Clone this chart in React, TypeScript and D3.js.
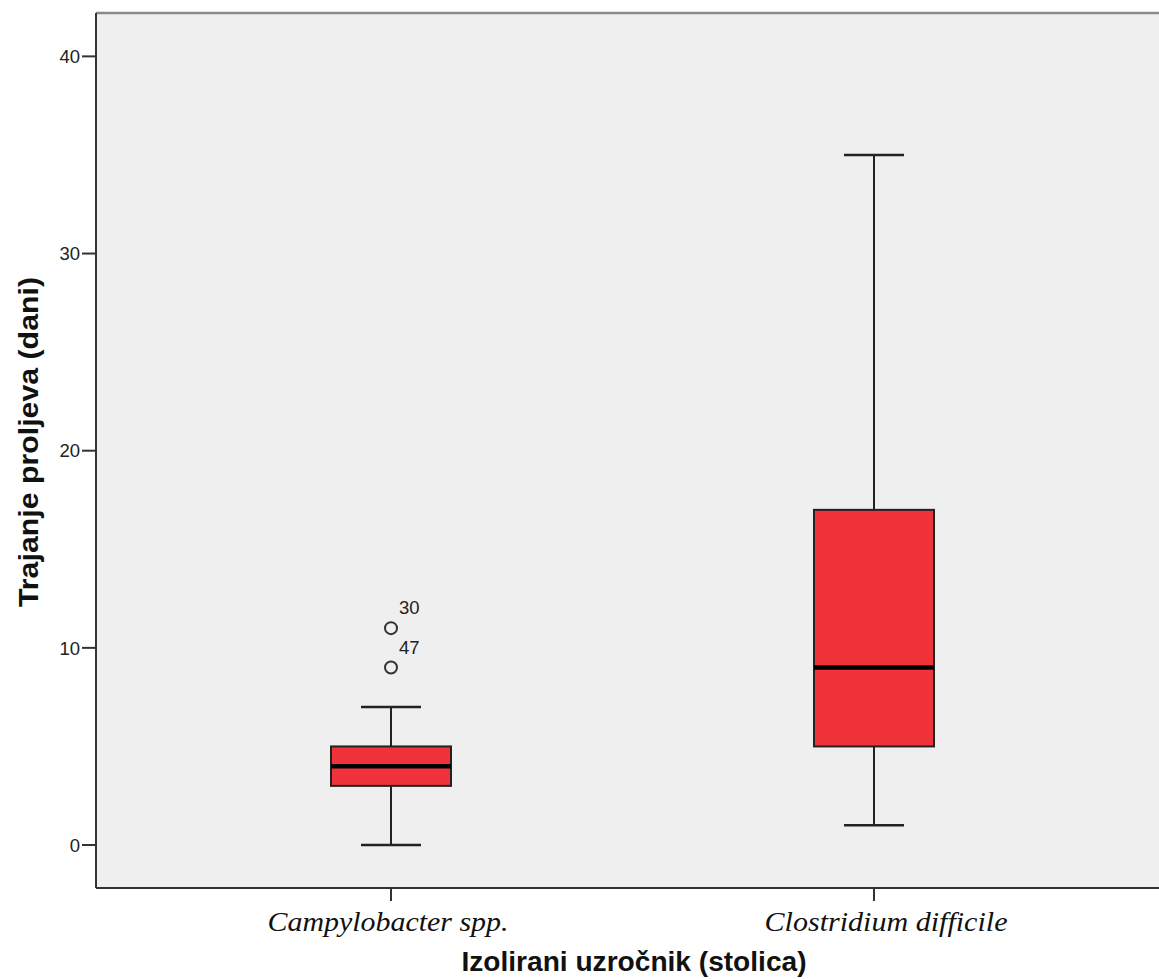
import React from "react";
import * as d3 from "d3";

const categories = ["Campylobacter spp.", "Clostridium difficile"];
const whiskerLow = [0, 1];
const q1 = [3, 5];
const medians = [4, 9];
const q3 = [5, 17];
const whiskerHigh = [7, 35];
const outlierValues = [[11, 9], []];
const outlierLabels = [["30", "47"], []];
const yTicks = [0, 10, 20, 30, 40];

export default function App() {
  const W = 1159, H = 979;
  const left = 96, top = 13, right = 1159, bottom = 888;
  const y = d3.scaleLinear().domain([-2.18, 42.2]).range([bottom, top]);
  const x = d3.scalePoint<string>().domain(categories).range([391, 874]);
  const boxW = 120, capW = 60;
  const fill = "#f0333a";
  const catLens = [241, 243];
  const catDx = [-3, 12];
  return (
    <svg width={W} height={H} style={{ position: "absolute", left: 0, top: 0, background: "#fff" }}>
      <rect x={left} y={top} width={right - left} height={bottom - top} fill="#efefef" />
      <line x1={left} y1={top} x2={right} y2={top} stroke="#8a8a8a" strokeWidth={2.5} />
      <line x1={left} y1={top} x2={left} y2={bottom} stroke="#333" strokeWidth={2} />
      <line x1={left} y1={bottom} x2={right} y2={bottom} stroke="#333" strokeWidth={2} />
      {yTicks.map((t) => (
        <g key={t}>
          <line x1={left - 14} x2={left} y1={y(t)} y2={y(t)} stroke="#333" strokeWidth={2} />
          <text x={left - 16} y={y(t)} dy="0.36em" textAnchor="end" fontFamily="'Liberation Sans', Arial, sans-serif" fontSize={18.5} fill="#222">{t}</text>
        </g>
      ))}
      {categories.map((c, i) => {
        const cx = x(c)!;
        return (
          <g key={c}>
            <line x1={cx} x2={cx} y1={bottom} y2={bottom + 13} stroke="#333" strokeWidth={2} />
            <text x={cx + catDx[i]} y={931} textAnchor="middle" fontFamily="'Liberation Serif', 'DejaVu Serif', serif" fontStyle="italic" fontSize={28} textLength={catLens[i]} lengthAdjust="spacingAndGlyphs" fill="#111">{c}</text>
            <line x1={cx} x2={cx} y1={y(whiskerLow[i])} y2={y(q1[i])} stroke="#222" strokeWidth={2} />
            <line x1={cx} x2={cx} y1={y(q3[i])} y2={y(whiskerHigh[i])} stroke="#222" strokeWidth={2} />
            <line x1={cx - capW / 2} x2={cx + capW / 2} y1={y(whiskerLow[i])} y2={y(whiskerLow[i])} stroke="#222" strokeWidth={2.5} />
            <line x1={cx - capW / 2} x2={cx + capW / 2} y1={y(whiskerHigh[i])} y2={y(whiskerHigh[i])} stroke="#222" strokeWidth={2.5} />
            <rect x={cx - boxW / 2} y={y(q3[i])} width={boxW} height={y(q1[i]) - y(q3[i])} fill={fill} stroke="#222" strokeWidth={2} />
            <line x1={cx - boxW / 2} x2={cx + boxW / 2} y1={y(medians[i])} y2={y(medians[i])} stroke="#000" strokeWidth={4.5} />
            {outlierValues[i].map((v, j) => (
              <g key={j}>
                <circle cx={cx} cy={y(v)} r={6} fill="none" stroke="#333" strokeWidth={2} />
                <text x={cx + 8} y={y(v) - 14} fontFamily="'Liberation Sans', Arial, sans-serif" fontSize={18.5} fill="#222">{outlierLabels[i][j]}</text>
              </g>
            ))}
          </g>
        );
      })}
      <text x={634} y={971} textAnchor="middle" fontFamily="'Liberation Sans', Arial, sans-serif" fontWeight="bold" fontSize={27} textLength={345} lengthAdjust="spacingAndGlyphs" fill="#111">Izolirani uzročnik (stolica)</text>
      <text transform={`translate(38,442) rotate(-90)`} textAnchor="middle" fontFamily="'Liberation Sans', Arial, sans-serif" fontWeight="bold" fontSize={27} textLength={330} lengthAdjust="spacingAndGlyphs" fill="#111">Trajanje proljeva (dani)</text>
    </svg>
  );
}
